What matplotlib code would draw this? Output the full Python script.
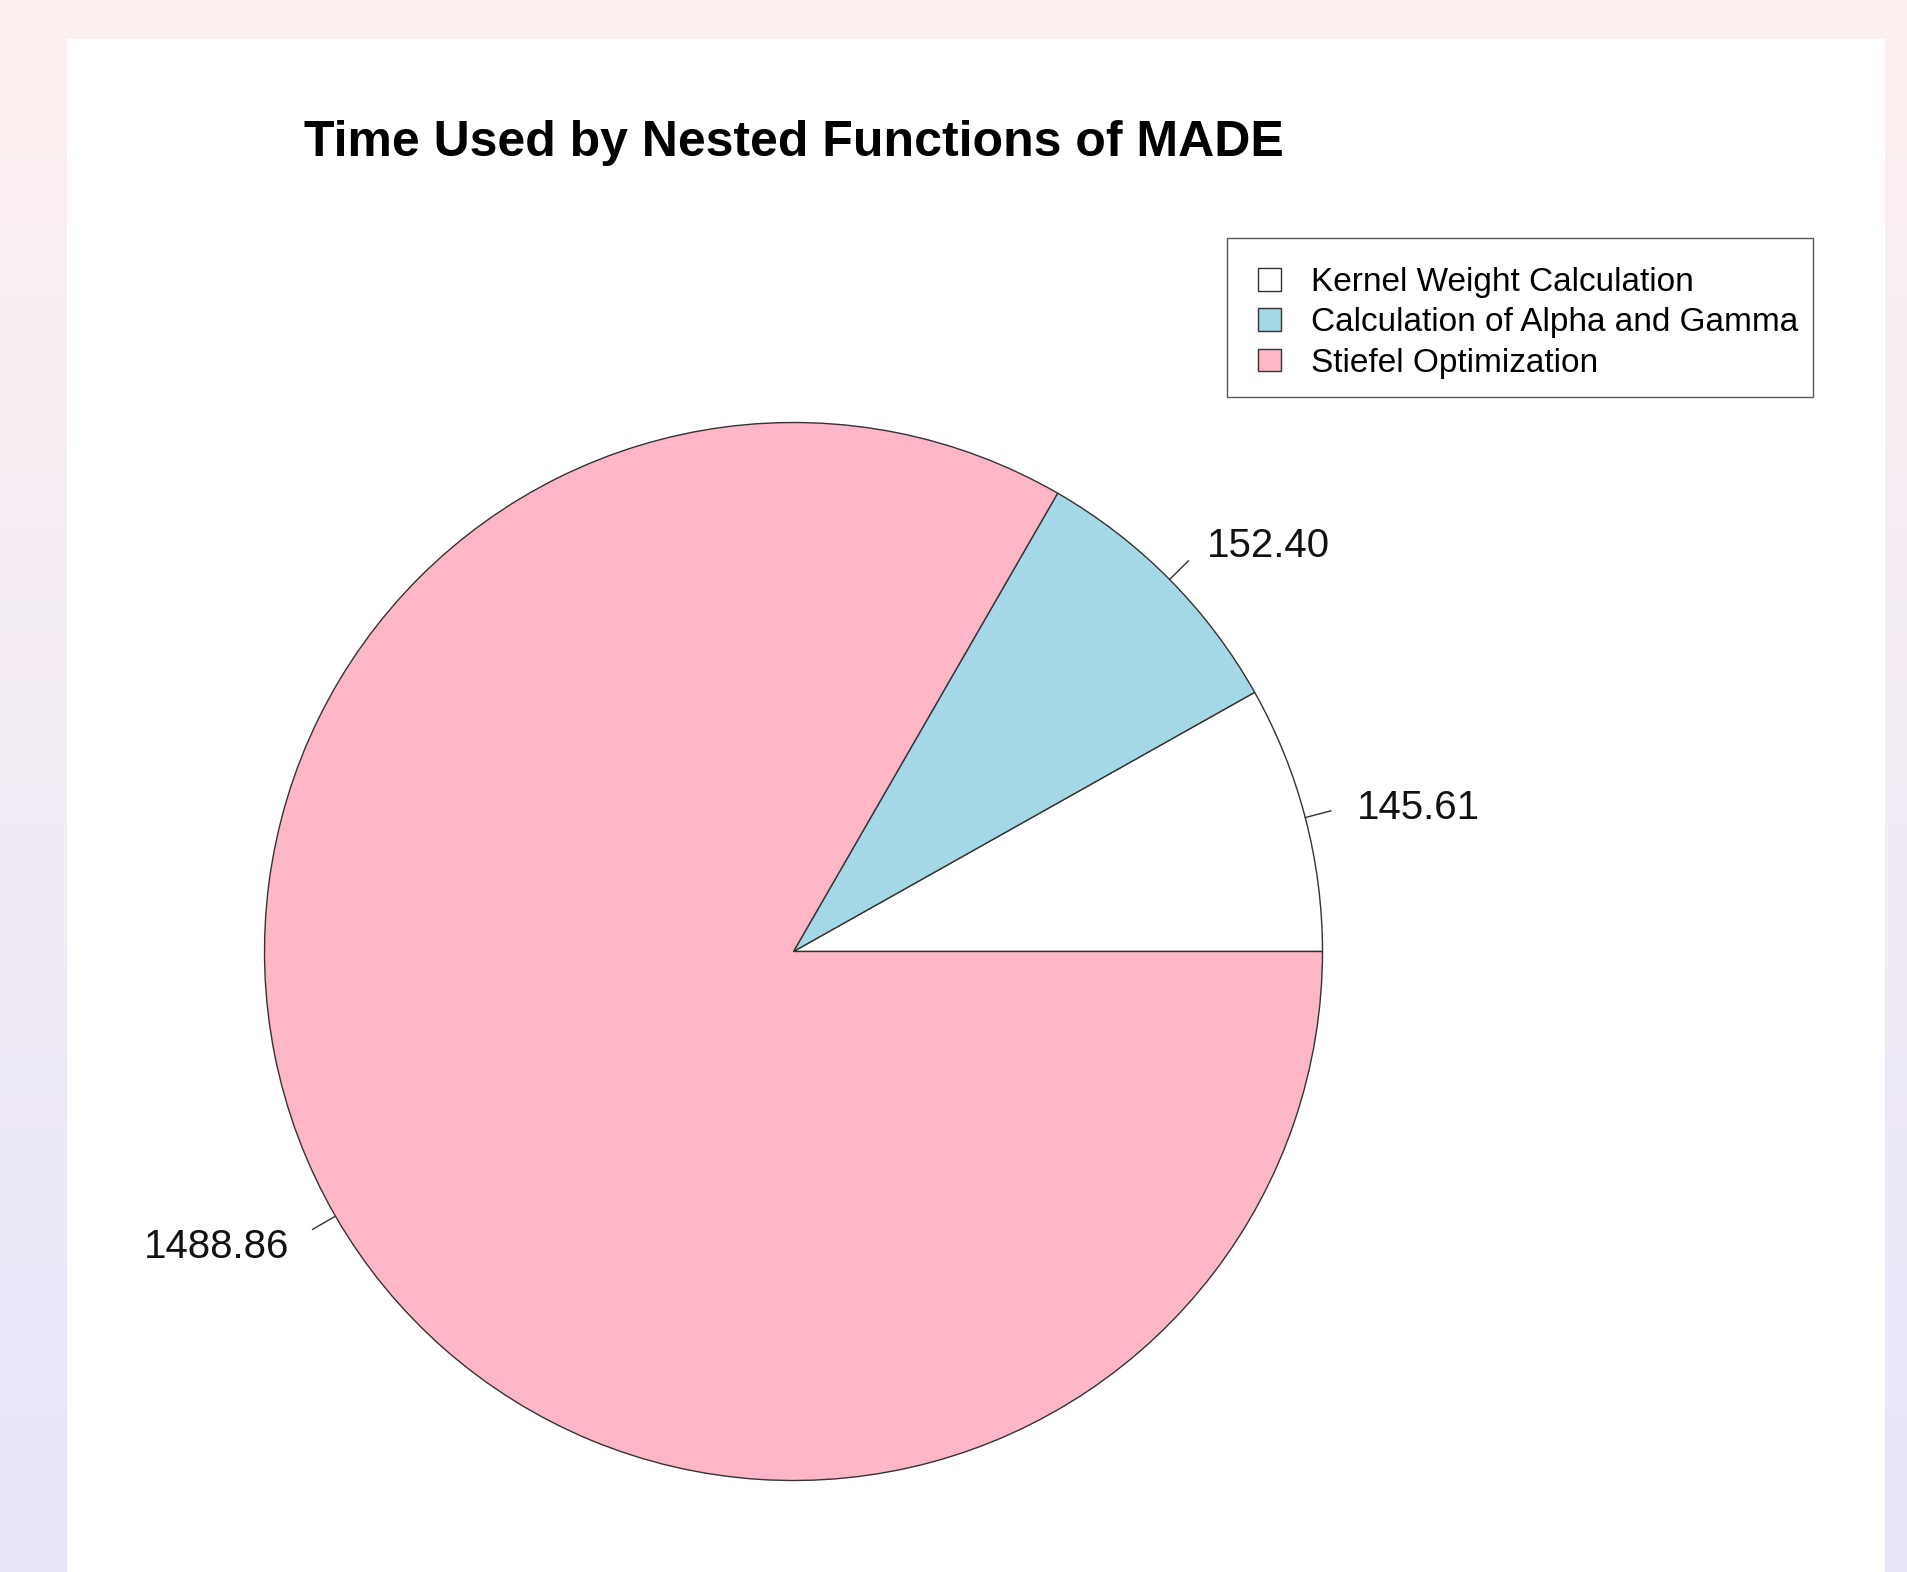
import numpy as np
import matplotlib
matplotlib.use("Agg")
import matplotlib.pyplot as plt
from matplotlib.colors import LinearSegmentedColormap
from matplotlib.patches import Rectangle

# ── Data ─────────────────────────────────────────────────────────────
functions = ["Kernel Weight Calculation", "Calculation of Alpha and Gamma", "Stiefel Optimization"]
seconds = [145.61, 152.40, 1488.86]
colors = ["#ffffff", "#a4d8e7", "#ffb6c6"]

plt.rcParams["font.family"] = ["Liberation Sans", "DejaVu Sans"]

W, H, DPI = 1908, 1572, 100
fig = plt.figure(figsize=(W / DPI, H / DPI), dpi=DPI)

# soft vertical gradient behind everything
bg = fig.add_axes([0, 0, 1, 1], zorder=0)
grad = np.linspace(0, 1, 256).reshape(-1, 1)
cmap = LinearSegmentedColormap.from_list("bg", ["#fdf0f0", "#e8e6fa"])
bg.imshow(grad, aspect="auto", cmap=cmap, extent=[0, 1, 0, 1], origin="upper")
bg.set_axis_off()

# white panel
fig.patches.append(Rectangle((67 / W, 0), (1885 - 67) / W, (H - 39) / H,
                             transform=fig.transFigure, facecolor="white",
                             edgecolor="none", zorder=1))

# legend box drawn separately (R pads it unevenly)
fig.patches.append(Rectangle((1227 / W, 1 - 397 / H), (1813 - 1227) / W, (397 - 238) / H,
                             transform=fig.transFigure, facecolor="white",
                             edgecolor="#555555", linewidth=1.0, zorder=1.5))

# pie axes: centre at (793.5, 951.5) px from top-left, radius 529 px
cx, cy, R = 793.5, 951.5, 529.0
ax = fig.add_axes([0, 0, 1, 1], zorder=2)
ax.patch.set_alpha(0)

wedges, texts = ax.pie(
    seconds, colors=colors, startangle=0, counterclock=True,
    labels=[f"{v:.2f}" for v in seconds], labeldistance=1.1,
    wedgeprops=dict(edgecolor="#333333", linewidth=1.0),
    textprops=dict(fontsize=29, color="#111111"),
)
for t in texts:
    t.set_verticalalignment("center_baseline")

# R-style tick marks from the rim to the labels
for w in wedges:
    mid = np.deg2rad((w.theta1 + w.theta2) / 2)
    ax.plot([np.cos(mid), 1.05 * np.cos(mid)], [np.sin(mid), 1.05 * np.sin(mid)],
            color="#333333", linewidth=1.0)

ax.set_aspect("auto")
ax.set_xlim(-cx / R, (W - cx) / R)
ax.set_ylim(-(H - cy) / R, cy / R)
ax.set_axis_off()

fig.text(cx / W, 1 - 143 / H, "Time Used by Nested Functions of MADE",
         ha="center", va="center", fontsize=36, fontweight="bold", zorder=3)

leg = ax.legend(wedges, functions, loc="upper left",
                bbox_to_anchor=(1258 / W, 1 - 267 / H), bbox_transform=fig.transFigure,
                fontsize=24, frameon=False,
                handlelength=0.68, handleheight=0.68, handletextpad=0.9,
                labelspacing=0.28, borderpad=0, borderaxespad=0)
for h in leg.legend_handles:
    h.set_edgecolor("#333333")

fig.savefig("out.png", dpi=DPI)
